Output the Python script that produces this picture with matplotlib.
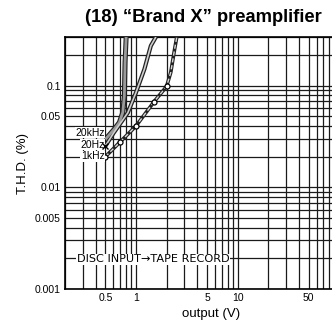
import matplotlib
matplotlib.use('Agg')
import matplotlib.pyplot as plt
from matplotlib.ticker import LogLocator, NullFormatter

# distortion vs output level, disc input -> tape record
out_1k = [0.5, 0.7, 1.0, 1.5, 2.0, 2.2, 2.37, 2.52]
thd_1k = [0.020, 0.028, 0.040, 0.069, 0.098, 0.135, 0.212, 0.30]

out_20 = [0.5, 0.6, 0.83, 1.0, 1.21, 1.40, 1.57]
thd_20 = [0.0255, 0.034, 0.054, 0.0855, 0.145, 0.246, 0.30]

out_20k = [0.5, 0.61, 0.686, 0.741, 0.768, 0.78, 0.80]
thd_20k = [0.0296, 0.0372, 0.0434, 0.0544, 0.0793, 0.169, 0.30]

xticks = [0.5, 1, 5, 10, 50]
xticklabels = ['0.5', '1', '5', '10', '50']
yticks = [0.001, 0.005, 0.01, 0.05, 0.1]
yticklabels = ['0.001', '0.005', '0.01', '0.05', '0.1']

plt.rcParams['font.family'] = ['Liberation Sans', 'DejaVu Sans']

fig = plt.figure(figsize=(3.32, 3.27), dpi=100)
ax = fig.add_axes([65/332, 1-289/327, 1-65/332, (289-37)/327])
ax.set_xscale('log')
ax.set_yscale('log')
ax.set_xlim(0.2, 85)
ax.set_ylim(0.001, 0.3)

ax.xaxis.set_minor_locator(LogLocator(base=10, subs=range(1, 10), numticks=30))
ax.yaxis.set_minor_locator(LogLocator(base=10, subs=range(1, 10), numticks=30))
ax.xaxis.set_minor_formatter(NullFormatter())
ax.yaxis.set_minor_formatter(NullFormatter())
ax.set_xticks(xticks)
ax.set_xticklabels(xticklabels)
ax.set_yticks(yticks)
ax.set_yticklabels(yticklabels)
ax.tick_params(which='both', length=0, labelsize=7.5, pad=3)
ax.grid(which='both', color='#1a1a1a', lw=0.9)
ax.set_axisbelow(True)
for s in ['left', 'bottom', 'top']:
    ax.spines[s].set_linewidth(1.2)
ax.spines['right'].set_visible(False)

# 20kHz: thick grey band
ax.plot(out_20k, thd_20k, color='#222222', lw=3.6, solid_capstyle='butt', zorder=3)
ax.plot(out_20k, thd_20k, color='#9a9a9a', lw=2.0, solid_capstyle='butt', zorder=4)
# 20Hz: hollow line
ax.plot(out_20, thd_20, color='#222222', lw=3.0, solid_capstyle='butt', zorder=3)
ax.plot(out_20, thd_20, color='#cfcfcf', lw=1.2, solid_capstyle='butt', zorder=4)
ax.plot(out_20[0], thd_20[0], marker='x', ms=4, mew=1, color='k', zorder=6)
# 1kHz: hollow line with open circles
ax.plot(out_1k, thd_1k, color='#222222', lw=2.6, solid_capstyle='butt', zorder=3)
ax.plot(out_1k, thd_1k, color='#d8d8d8', lw=1.0, ls=(0, (3, 2)), zorder=4)
ax.plot(out_1k[:5], thd_1k[:5], ls='none', marker='o', ms=3.6, mfc='white',
        mec='k', mew=0.9, zorder=5)

lbl = dict(ha='right', va='center', fontsize=7.5, zorder=5,
           bbox=dict(facecolor='white', edgecolor='none', pad=0.3))
ax.text(0.49, 0.0345, '20kHz', **lbl)
ax.text(0.49, 0.0262, '20Hz', **lbl)
ax.text(0.49, 0.0201, '1kHz', **lbl)

ax.text(0.262, 0.00195, 'DISC INPUT\u2192TAPE RECORD', fontsize=8.1, va='center',
        ha='left', zorder=5, family=['DejaVu Sans'],
        bbox=dict(facecolor='white', edgecolor='none', pad=0.5))

ax.set_xlabel('output (V)', fontsize=9.5, labelpad=1)
ax.xaxis.set_label_coords((211-65)/(332-65), -0.075)
ax.set_ylabel('T.H.D. (%)', fontsize=9.5, labelpad=4)

fig.text(203/332, 1-18/327, '(18) \u201cBrand X\u201d preamplifier', ha='center',
         va='center', fontsize=13.2, fontweight='bold',
         family=['Liberation Sans Narrow', 'Liberation Sans', 'DejaVu Sans'])

fig.savefig('out.png', dpi=100)
